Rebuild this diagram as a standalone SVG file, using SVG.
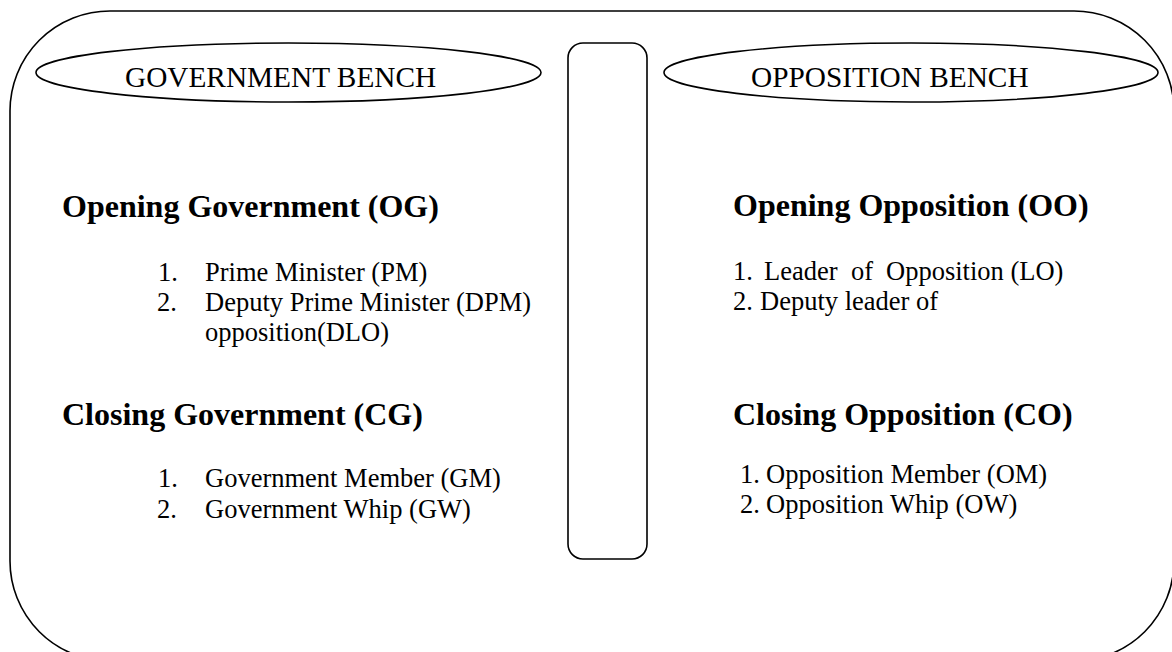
<svg xmlns="http://www.w3.org/2000/svg" width="1172" height="652" viewBox="0 0 1172 652">
  <style>
    .line { fill: none; stroke: #000; stroke-width: 1.6; }
    .bench { font-family: "Liberation Serif", "Times New Roman", serif; font-size: 29.3px; fill: #000; }
    .head { font-family: "Liberation Serif", "Times New Roman", serif; font-size: 32px; font-weight: bold; fill: #000; }
    .item { font-family: "Liberation Serif", "Times New Roman", serif; font-size: 26.5px; fill: #000; }
  </style>
  <rect width="1172" height="652" fill="#fff"/>

  <!-- chamber outline -->
  <g id="chamber">
    <path class="line" d="M10,111 A100,100 0 0 1 110,11 L1074,11 A100,100 0 0 1 1174,111 L1174,561 A100,100 0 0 1 1074,661 L110,661 A100,100 0 0 1 10,561 Z"/>
  </g>

  <!-- speaker's aisle -->
  <g id="aisle">
    <rect class="line" x="568" y="43" width="79" height="516" rx="15" ry="15"/>
  </g>

  <!-- government side -->
  <g id="government-bench">
    <ellipse class="line" cx="288.5" cy="72.5" rx="252.5" ry="29.5"/>
    <text class="bench" x="125" y="87">GOVERNMENT BENCH</text>
  </g>

  <g id="opening-government">
    <text class="head" x="62" y="217">Opening Government (OG)</text>
    <text class="item" y="281"><tspan x="158">1.</tspan><tspan x="205">Prime Minister (PM)</tspan></text>
    <text class="item" y="311"><tspan x="157">2.</tspan><tspan x="205">Deputy Prime Minister (DPM)</tspan></text>
    <text class="item" x="205" y="341">opposition(DLO)</text>
  </g>

  <g id="closing-government">
    <text class="head" x="62" y="425">Closing Government (CG)</text>
    <text class="item" y="487"><tspan x="158">1.</tspan><tspan x="205">Government Member (GM)</tspan></text>
    <text class="item" y="518"><tspan x="157">2.</tspan><tspan x="205">Government Whip (GW)</tspan></text>
  </g>

  <!-- opposition side -->
  <g id="opposition-bench">
    <ellipse class="line" cx="911" cy="72.5" rx="247" ry="29.5"/>
    <text class="bench" x="751" y="87">OPPOSITION BENCH</text>
  </g>

  <g id="opening-opposition">
    <text class="head" x="733" y="216">Opening Opposition (OO)</text>
    <text class="item" y="280"><tspan x="733">1.</tspan><tspan x="764">Leader</tspan><tspan x="851">of</tspan><tspan x="886">Opposition (LO)</tspan></text>
    <text class="item" y="310"><tspan x="733">2.</tspan><tspan x="760">Deputy leader of</tspan></text>
  </g>

  <g id="closing-opposition">
    <text class="head" x="733" y="425">Closing Opposition (CO)</text>
    <text class="item" y="483"><tspan x="740">1.</tspan><tspan x="766">Opposition Member (OM)</tspan></text>
    <text class="item" y="513"><tspan x="740">2.</tspan><tspan x="766">Opposition Whip (OW)</tspan></text>
  </g>
</svg>
